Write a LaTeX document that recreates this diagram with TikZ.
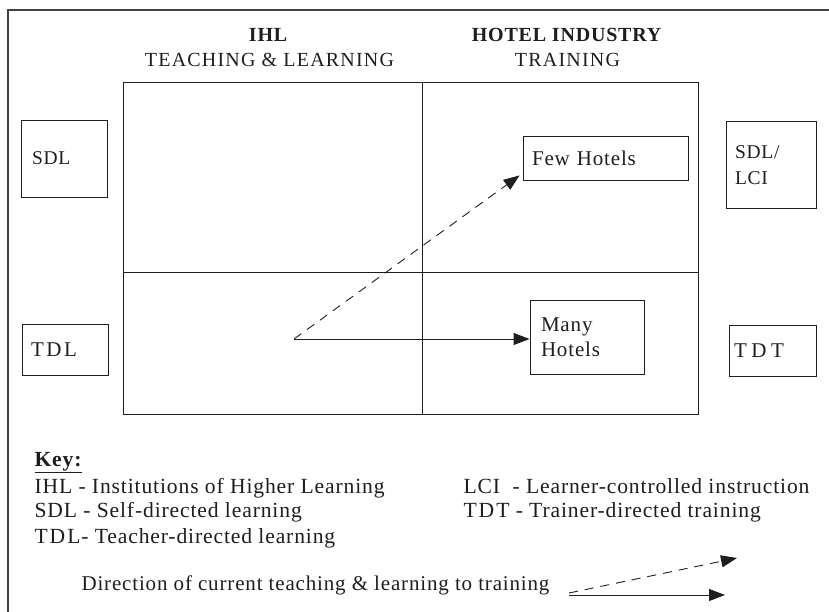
\documentclass[tikz,border=0pt]{standalone}
\usepackage{fontspec}
\setmainfont{Liberation Serif}[LetterSpace=4]
\usetikzlibrary{arrows.meta}
\definecolor{ink}{RGB}{30,30,30}
\begin{document}
\begin{tikzpicture}[x=1pt,y=-1pt,
  ink/.style={draw=ink, line width=0.9pt},
  boxn/.style={ink, align=left, inner ysep=0pt, font=\fontsize{21}{25}\selectfont, text=ink},
  title/.style={anchor=base, text=ink, font=\fontsize{20}{24}\selectfont},
  keytext/.style={anchor=base west, text=ink, font=\fontsize{21.6}{25}\selectfont},
  arr/.style={draw=ink, line width=0.9pt, -{Triangle[length=16pt,width=12pt]}},
  dsh/.style={dash pattern=on 9pt off 7pt}
]
\useasboundingbox (0,0) rectangle (829,612);
\fill[white] (0,0) rectangle (829,612);
% outer frame (open at right and bottom)
\draw[draw=ink!85, line width=1.6pt] (829,10) -- (8,10) -- (8,612);
% grid
\draw[ink] (123,82) rectangle (698,414);
\draw[ink] (422,82) -- (422,414);
\draw[ink] (123,272) -- (698,272);
% titles
\node[title] (ihl) at (268.5,42) {\textbf{IHL}};
\node[title] (tl) at (269.5,67) {\addfontfeatures{LetterSpace=6}TEACHING \& LEARNING};
\node[title] (hi) at (567,42) {\textbf{HOTEL INDUSTRY}};
\node[title] (tr) at (567.5,67) {\addfontfeatures{LetterSpace=6}TRAINING};
% side boxes
\node[boxn, text width=64pt, inner xsep=11pt, minimum height=77pt, font=\fontsize{19.5}{25}\selectfont] (sdl) at (64,158.5) {SDL};
\node[boxn, text width=68pt, inner xsep=9pt, minimum height=51pt] (tdl) at (65,349.5) {\addfontfeatures{LetterSpace=12}TDL};
\node[boxn, text width=72pt, inner xsep=9pt, minimum height=87pt, font=\fontsize{19.5}{26}\selectfont] (sdllci) at (771,165) {SDL/\\LCI};
\node[boxn, text width=77pt, inner xsep=5pt, minimum height=51pt] (tdt) at (772.5,350.5) {\addfontfeatures{LetterSpace=22}TDT};
% hotel boxes
\node[boxn, text width=147pt, inner xsep=9pt, minimum height=44pt] (few) at (605.5,158) {Few Hotels};
\node[boxn, text width=92pt, inner xsep=11pt, minimum height=74pt] (many) at (587,337) {Many\\Hotels};
% arrows
\coordinate (o) at (294,339);
\draw[arr] (o) -- (o -| many.west);
\draw[arr, dsh] (o) -- ([shift={(-3pt,5pt)}]few.south west);
% key
\node[keytext] (key) at (31,466) {\underline{\textbf{Key:}}};
\node[keytext] (k1) at (31,493) {IHL - Institutions of Higher Learning};
\node[keytext] (k2) at (31,517) {SDL - Self-directed learning};
\node[keytext] (k3) at (31,543) {T\kern2pt D\kern2pt L- Teacher-directed learning};
\node[keytext] (k4) at (460,493) {LCI\ \ - Learner-controlled instruction};
\node[keytext] (k5) at (460,517) {T\kern2pt D\kern2pt T - Trainer-directed training};
\node[keytext, font=\fontsize{21}{25}\selectfont] (k6) at (78,590) {Direction of current teaching \& learning to training};
% legend arrows
\coordinate (ls) at (569,593);
\coordinate (ld) at (737,558);
\coordinate (ls2) at (569,595);
\coordinate (le) at (725,595);
\draw[arr, dsh] (ls) -- (ld);
\draw[arr] (ls2) -- (le);
\end{tikzpicture}
\end{document}
